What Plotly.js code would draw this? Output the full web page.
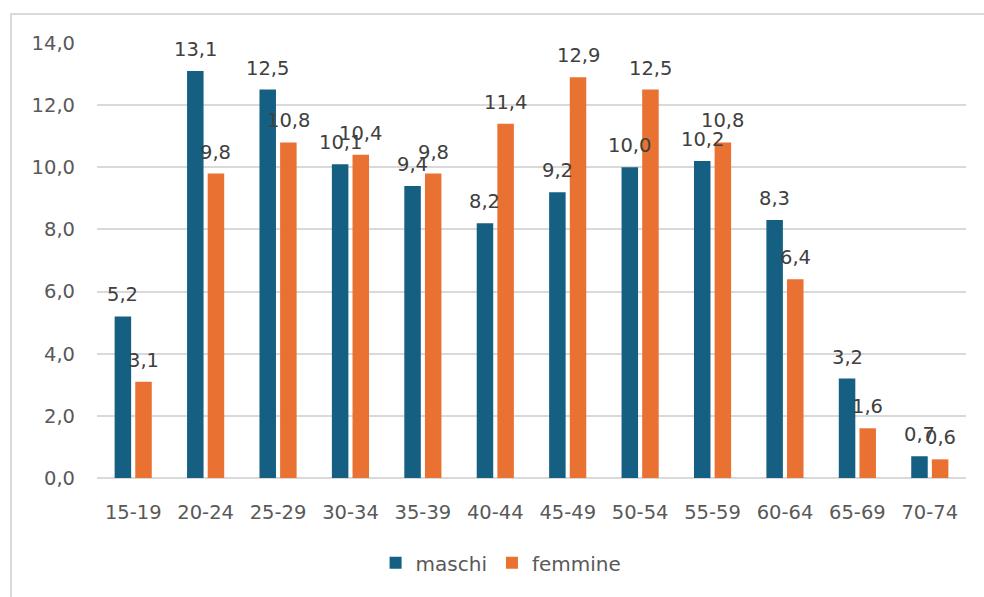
<!DOCTYPE html>
<html><head><meta charset="utf-8">
<script src="https://cdn.plot.ly/plotly-3.0.1.min.js"></script>
<style>
html,body{margin:0;padding:0;background:#fff;}
#wrap{position:relative;width:984px;height:597px;overflow:hidden;}
#chart{width:984px;height:597px;}
#frame{position:absolute;left:10px;top:13px;width:990px;height:620px;border:2px solid #d9d9d9;pointer-events:none;box-sizing:border-box;}
</style></head>
<body>
<div id="wrap"><div id="chart"></div><div id="frame"></div></div>
<script>
const categories = ["15-19","20-24","25-29","30-34","35-39","40-44","45-49","50-54","55-59","60-64","65-69","70-74"];
const maschi = [5.2,13.1,12.5,10.1,9.4,8.2,9.2,10.0,10.2,8.3,3.2,0.7];
const femmine = [3.1,9.8,10.8,10.4,9.8,11.4,12.9,12.5,10.8,6.4,1.6,0.6];
const seriesNames = ["maschi","femmine"];
const seriesColors = ["#156082","#E97132"];
const tickVals = [0,2,4,6,8,10,12,14];

const FONT = "'DejaVu Sans', sans-serif";
const labelFont = {family:FONT, size:19.5, color:"#404040"};
const tickFont = {family:FONT, size:19.5, color:"#595959"};

function mk(name, vals, color){
  return {type:"bar", name:name, x:categories, y:vals,
    marker:{color:color}, hoverinfo:"x+y"};
}
const seriesVals = [maschi, femmine];
const data = seriesVals.map((v,i)=>mk(seriesNames[i], v, seriesColors[i]));

// data labels centred over each bar
const shifts = [-10.3, 10.3];
const annotations = [];
seriesVals.forEach((vals, i) => {
  vals.forEach((v, j) => {
    annotations.push({x:categories[j], y:v, xref:"x", yref:"y",
      text:v.toFixed(1).replace(".", ","), showarrow:false,
      xanchor:"center", yanchor:"bottom", xshift:shifts[i], yshift:8,
      font:labelFont});
  });
});

const layout = {
  width:984, height:597,
  margin:{l:97, r:18, t:43, b:119},
  paper_bgcolor:"#fff", plot_bgcolor:"#fff",
  separators:",.",
  barmode:"group", bargap:0.43, bargroupgap:0.2,
  showlegend:true,
  legend:{orientation:"h", x:0.465, xanchor:"center", y:-0.15, yanchor:"top",
    font:{family:FONT, size:20, color:"#595959"}, itemwidth:30, traceorder:"normal"},
  xaxis:{type:"category", tickfont:tickFont,
    showgrid:false, showline:false, ticks:"", zeroline:false, ticklabelstandoff:20},
  yaxis:{range:[0,14], tickvals:tickVals, tickformat:".1f", showgrid:true, gridcolor:"#d9d9d9", gridwidth:2,
    zeroline:true, zerolinecolor:"#d9d9d9", zerolinewidth:2, showline:false, ticks:"", ticklen:0,
    tickfont:tickFont, automargin:false, ticklabelstandoff:21},
  annotations:annotations
};
Plotly.newPlot("chart", data, layout, {displayModeBar:false, staticPlot:true});
</script>
</body></html>
